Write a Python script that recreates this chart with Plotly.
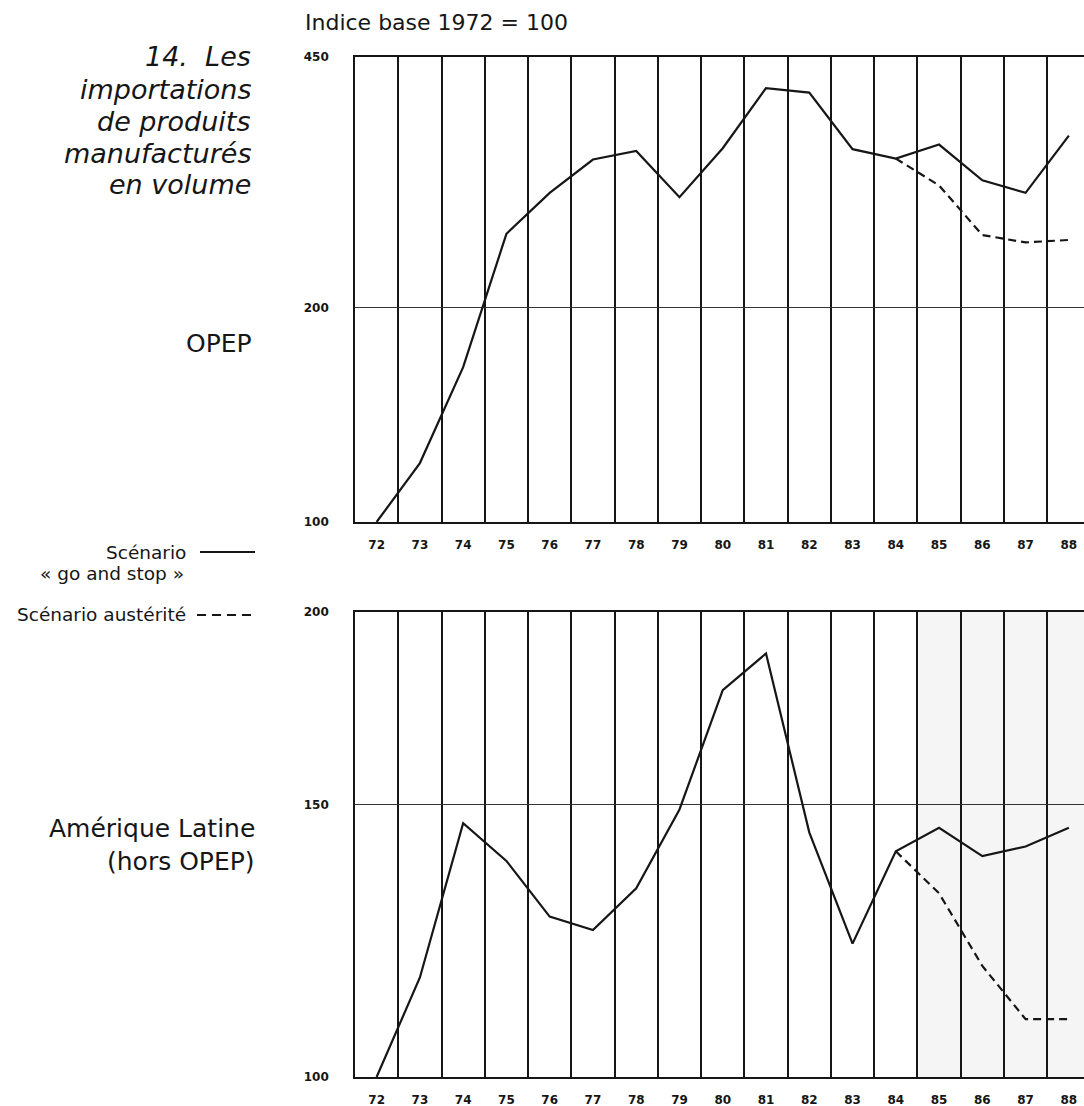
import plotly.graph_objects as go

# ---------------- data ----------------
years = list(range(72, 89))
year_labels = [str(y) for y in years]
grid_years = [y - 0.5 for y in range(72, 89)]

opep_go_stop = [100, 121, 165, 254, 290, 323, 332, 286, 335, 407, 401, 334, 324, 339, 302, 290, 349]
opep_austerite = [None] * 12 + [324, 297, 253, 247, 249]

latam_go_stop = [100, 116, 146, 138, 127, 124.5, 132.5, 149, 178, 188, 144, 122, 140, 145, 139, 141, 145]
latam_austerite = [None] * 12 + [140, 131.5, 118, 109, 109]

opep_ticks = [100, 200, 450]
latam_ticks = [100, 150, 200]

title_lines = ["14.\u00a0 Les", "importations", "de produits", "manufacturés", "en volume"]
panel_labels_top = ["OPEP"]
panel_labels_bottom = ["Amérique Latine", "(hors OPEP)"]

# ---------------- layout helpers ----------------
W, H = 1084, 1106
L, R, T, B = 355, 1084, 57, 1077


def px(x):
    return (x - L) / (R - L)


def py(y):
    return (B - y) / (B - T)


INK = "#161616"
FONT = "DejaVu Sans, Verdana, sans-serif"
TICKFONT = dict(family=FONT, size=12, color=INK, weight="bold")

fig = go.Figure()

fig.add_trace(go.Scatter(x=years, y=opep_go_stop, mode="lines", xaxis="x", yaxis="y",
                         line=dict(color=INK, width=2.2), showlegend=False))
fig.add_trace(go.Scatter(x=years, y=opep_austerite, mode="lines", xaxis="x", yaxis="y",
                         line=dict(color=INK, width=2.2, dash="8px,5px"), showlegend=False))
fig.add_trace(go.Scatter(x=years, y=latam_go_stop, mode="lines", xaxis="x2", yaxis="y2",
                         line=dict(color=INK, width=2.2), showlegend=False))
fig.add_trace(go.Scatter(x=years, y=latam_austerite, mode="lines", xaxis="x2", yaxis="y2",
                         line=dict(color=INK, width=2.2, dash="8px,5px"), showlegend=False))

top_lo = py(522)
bot_hi = py(612)

xcommon = dict(
    range=[71.5, 88.35], tickmode="array", tickvals=years, ticktext=year_labels,
    showgrid=False, ticks="", tickfont=TICKFONT, ticklabelstandoff=11,
    showline=True, linecolor=INK, linewidth=1.6, mirror=True, zeroline=False,
    minor=dict(tickvals=grid_years, showgrid=True, gridcolor=INK, gridwidth=1.5, ticks=""),
    fixedrange=True,
)
ycommon = dict(
    type="log", tickmode="array", ticks="", tickfont=TICKFONT, ticklabelstandoff=22,
    showgrid=True, gridcolor="#333333", gridwidth=1.4,
    showline=True, linecolor=INK, linewidth=1.6, zeroline=False, fixedrange=True,
)

fig.update_layout(
    width=W, height=H,
    margin=dict(l=L, r=W - R, t=T, b=H - B),
    paper_bgcolor="white", plot_bgcolor="white",
    showlegend=False,
    xaxis=dict(domain=[0, 1], anchor="y", **xcommon),
    yaxis=dict(domain=[top_lo, 1], anchor="x", range=[2, 2.65321], tickvals=opep_ticks,
               ticktext=[str(v) for v in opep_ticks], **ycommon),
    xaxis2=dict(domain=[0, 1], anchor="y2", **xcommon),
    yaxis2=dict(domain=[0, bot_hi], anchor="x2", range=[2, 2.30103], tickvals=latam_ticks,
                ticktext=[str(v) for v in latam_ticks], **ycommon),
)

# faint print tint on the right of the lower panel
fig.add_shape(type="rect", xref="x2", yref="y2 domain", x0=84.5, x1=88.35, y0=0, y1=1,
              fillcolor="#f5f5f5", line=dict(width=0), layer="below")

annotations = []


def text(x, y, s, size, anchor="right", italic=False):
    annotations.append(dict(
        x=px(x), y=py(y), xref="paper", yref="paper", xanchor=anchor, yanchor="middle",
        text=f"<i>{s}</i>" if italic else s, showarrow=False,
        font=dict(family=FONT, size=size, color=INK)))


text(303, 23, "Indice base 1972 = 100", 22, anchor="left")
for s, yy in zip(title_lines, [56, 89, 121, 153, 184]):
    text(253, yy, s, 27, italic=True)
text(254, 343, panel_labels_top[0], 25)
for s, yy in zip(panel_labels_bottom, [828, 861]):
    text(257, yy, s, 25)
text(188, 552, "Scénario", 18.5)
text(186, 573, "« go and stop »", 18.5)
text(188, 614, "Scénario austérité", 18.5)
fig.update_layout(annotations=annotations)

# legend line samples
fig.add_shape(type="line", xref="paper", yref="paper", x0=px(200), x1=px(255), y0=py(552), y1=py(552),
              line=dict(color=INK, width=2))
fig.add_shape(type="line", xref="paper", yref="paper", x0=px(197), x1=px(254), y0=py(615), y1=py(615),
              line=dict(color=INK, width=2, dash="9px,6px"))

fig.write_html("out.html")
